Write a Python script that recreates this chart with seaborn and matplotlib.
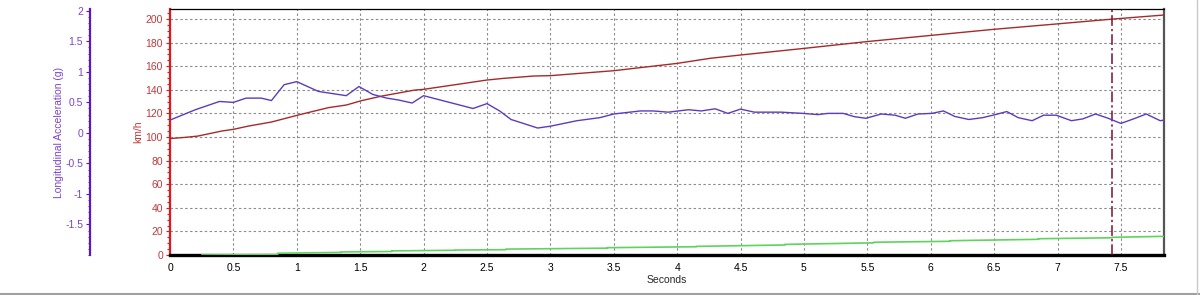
import matplotlib
matplotlib.use("Agg")
import matplotlib.pyplot as plt
from matplotlib.ticker import MultipleLocator, FuncFormatter
from matplotlib.lines import Line2D
import seaborn as sns
import pandas as pd

# ---- data ----
speed_t = [0.0, 0.12, 0.22, 0.41, 0.5, 0.62, 0.80, 1.01, 1.12, 1.25, 1.39, 1.51, 1.67, 1.93,
           2.0, 2.5, 2.63, 2.87, 3.0, 3.5, 4.0, 4.26, 4.5, 5.0, 5.49, 5.99, 6.49, 6.99, 7.44, 7.84]
speed_kmh = [98.7, 99.7, 100.8, 105.1, 106.5, 109.3, 112.7, 118.6, 121.5, 124.9, 127.1, 130.8, 134.7, 139.8,
             140.4, 148.3, 149.7, 151.7, 152.0, 156.2, 162.4, 166.7, 169.5, 175.1, 180.8, 186.0, 191.2, 195.8, 200.0, 203.4]

accel_t = [0.0, 0.2, 0.39, 0.5, 0.6, 0.72, 0.8, 0.9, 1.0, 1.17, 1.39, 1.49, 1.6, 1.71, 1.8, 1.91,
           2.0, 2.39, 2.5, 2.6, 2.69, 2.9, 3.0, 3.21, 3.39, 3.5, 3.71, 3.81, 3.93, 4.01, 4.09, 4.19,
           4.3, 4.4, 4.5, 4.61, 4.82, 4.99, 5.11, 5.19, 5.31, 5.4, 5.49, 5.61, 5.72, 5.8, 5.9, 6.01,
           6.1, 6.19, 6.3, 6.41, 6.51, 6.6, 6.69, 6.8, 6.89, 6.99, 7.11, 7.2, 7.3, 7.4, 7.5, 7.6,
           7.7, 7.81, 7.84]
accel_g = [0.21, 0.38, 0.515, 0.50, 0.57, 0.57, 0.53, 0.79, 0.84, 0.68, 0.61, 0.76, 0.63, 0.57, 0.54, 0.49,
           0.61, 0.40, 0.48, 0.36, 0.22, 0.08, 0.11, 0.20, 0.25, 0.31, 0.36, 0.36, 0.34, 0.36, 0.38, 0.36,
           0.395, 0.32, 0.39, 0.34, 0.34, 0.32, 0.30, 0.32, 0.32, 0.265, 0.24, 0.31, 0.29, 0.24, 0.31, 0.32,
           0.36, 0.27, 0.22, 0.25, 0.30, 0.35, 0.25, 0.20, 0.29, 0.29, 0.20, 0.23, 0.31, 0.24, 0.155, 0.23,
           0.31, 0.20, 0.21]

dist_t = [0.25, 0.85, 0.85, 1.35, 1.35, 1.75, 1.75, 2.25, 2.25, 2.65, 2.65, 3.45, 3.45, 4.15, 4.15,
          4.85, 4.85, 5.55, 5.55, 6.15, 6.15, 6.85, 6.85, 7.43, 7.43, 7.84]
dist_v = [0.0, 0.3, 1.5, 2.2, 2.6, 3.0, 3.5, 4.0, 4.2, 4.5, 5.0, 5.8, 6.2, 7.0, 7.3,
          8.5, 9.0, 10.3, 10.8, 11.6, 12.1, 13.3, 13.8, 14.6, 15.0, 15.8]

marker_t = 7.43

x_ticks = [0, 0.5, 1, 1.5, 2, 2.5, 3, 3.5, 4, 4.5, 5, 5.5, 6, 6.5, 7, 7.5]
speed_ticks = [0, 20, 40, 60, 80, 100, 120, 140, 160, 180, 200]
accel_ticks = [-1.5, -1, -0.5, 0, 0.5, 1, 1.5, 2]

# ---- style ----
sns.set_style("white")
plt.rcParams['font.family'] = ['Liberation Sans', 'DejaVu Sans']
plt.rcParams['font.size'] = 7.5

RED_LINE = "#a52a2a"
RED_AX = "#e0181c"
RED_TXT = "#c0393b"
PURPLE_LINE = "#5b3dbb"
PURPLE_AX = "#5a16c8"
PURPLE_TXT = "#7a44cc"
GREEN = "#5fd35f"

fig = plt.figure(figsize=(12, 2.95), dpi=100)
ax = fig.add_axes([170/1200, 1-255/295, (1164-170)/1200, (255-9)/295])

df_s = pd.DataFrame({"t": speed_t, "v": speed_kmh})
df_d = pd.DataFrame({"t": dist_t, "v": dist_v})
df_a = pd.DataFrame({"t": accel_t, "g": accel_g})

ax.set_xlim(0, 7.84)
ax.set_ylim(0, 208.5)

# grid
ax.set_xticks(x_ticks)
ax.set_yticks(speed_ticks)
ax.grid(True, color="#8c8c8c", linestyle=(0, (2.2, 2.2)), linewidth=0.8)
ax.set_axisbelow(True)

sns.lineplot(data=df_d, x="t", y="v", ax=ax, color=GREEN, linewidth=1.2,
             estimator=None, sort=False, zorder=3)
sns.lineplot(data=df_s, x="t", y="v", ax=ax, color=RED_LINE, linewidth=1.0,
             estimator=None, sort=False, zorder=3)
ax.axvline(marker_t, color="#7a1030", linewidth=1.1, linestyle=(0, (7, 2, 1.5, 2)), zorder=4)

ax.xaxis.set_major_formatter(FuncFormatter(lambda v, p: f"{v:g}"))
ax.xaxis.set_minor_locator(MultipleLocator(0.125))
ax.yaxis.set_minor_locator(MultipleLocator(5))
ax.tick_params(axis='x', which='major', direction='out', length=4, width=0.8, colors='black',
               labelsize=7.5, pad=2)
ax.tick_params(axis='x', which='minor', direction='out', length=2.5, width=0.8, colors='#333333')
ax.tick_params(axis='y', which='major', direction='out', length=3, width=0.8, colors=RED_AX,
               labelcolor=RED_TXT, labelsize=7.5, pad=2)
ax.tick_params(axis='y', which='minor', direction='out', length=2, width=0.8, colors=RED_AX)
ax.set_xlabel("Seconds", fontsize=7.5, labelpad=1)
ax.set_ylabel("km/h", fontsize=7.5, color=RED_TXT)
ax.yaxis.set_label_coords(-27/994, 0.5)

for s in ax.spines.values():
    s.set_visible(True)
ax.spines['left'].set_color(RED_AX)
ax.spines['left'].set_linewidth(1.6)
ax.spines['bottom'].set_color("black")
ax.spines['bottom'].set_linewidth(2.4)
ax.spines['top'].set_color("black")
ax.spines['top'].set_linewidth(0.9)
ax.spines['right'].set_color("#555555")
ax.spines['right'].set_linewidth(1.6)

# acceleration axis
ax2 = ax.twinx()
ax2.set_ylim(-2, 2.03)
sns.lineplot(data=df_a, x="t", y="g", ax=ax2, color=PURPLE_LINE, linewidth=1.0,
             estimator=None, sort=False, zorder=3)
ax2.set_xlim(0, 7.84)
ax2.yaxis.tick_left()
ax2.yaxis.set_label_position('left')
for k in ['top', 'right', 'bottom']:
    ax2.spines[k].set_visible(False)
ax2.spines['left'].set_visible(True)
ax2.spines['left'].set_position(('axes', -80/994))
ax2.spines['left'].set_color(PURPLE_AX)
ax2.spines['left'].set_linewidth(1.6)
ax2.set_yticks(accel_ticks)
ax2.yaxis.set_major_formatter(FuncFormatter(lambda v, p: f"{v:g}"))
ax2.yaxis.set_minor_locator(MultipleLocator(0.1))
ax2.tick_params(axis='y', which='major', direction='out', length=3, width=0.8, colors=PURPLE_AX,
                labelcolor=PURPLE_TXT, labelsize=7.5, pad=2)
ax2.tick_params(axis='y', which='minor', direction='out', length=1.5, width=0.6, colors=PURPLE_AX)
ax2.set_ylabel("Longitudinal Acceleration (g)", fontsize=7.5, color=PURPLE_TXT)
ax2.yaxis.set_label_coords(-106/994, 0.5)
ax2.set_xlabel("")
ax2.grid(False)
ax2.patch.set_visible(False)

# window border lines
fig.add_artist(Line2D([0, 1], [1.5/295, 1.5/295], transform=fig.transFigure, color="#a0a0a0", linewidth=1.5))
fig.add_artist(Line2D([1197/1200, 1197/1200], [0, 1], transform=fig.transFigure, color="#c8c8c8", linewidth=1.0))

fig.savefig("out.png", dpi=100)
